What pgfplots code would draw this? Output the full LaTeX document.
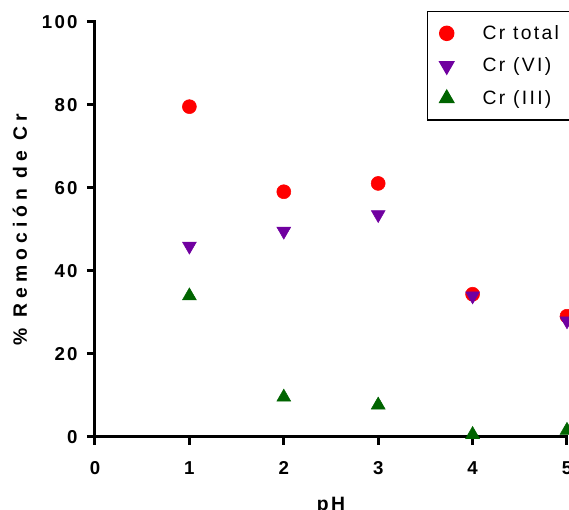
\documentclass[border=0pt]{standalone}
\usepackage{fontspec}
\setmainfont{Liberation Sans}[LetterSpace=12]
\newfontfamily\widefont{Liberation Sans}[LetterSpace=26]
\usepackage{pgfplots}
\pgfplotsset{compat=1.18}
\definecolor{crred}{RGB}{255,0,0}
\definecolor{crpurple}{RGB}{112,0,160}
\definecolor{crgreen}{RGB}{0,100,0}
\begin{document}
\begin{tikzpicture}
% visible window of the reference (1px = 0.75pt), right side is cut off
\path[use as bounding box, clip] (-71.25pt,-54.75pt) rectangle (355.5pt,327.75pt);
\begin{axis}[
    anchor=origin, at={(0pt,0pt)},
    x=70.8pt, y=3.1125pt,
    xmin=0, xmax=5, ymin=0, ymax=100,
    clip=false,
    axis lines=left,
    axis line style={-, line width=2.25pt, black, line cap=rect},
    xtick={0,1,2,3,4,5},
    ytick={0,20,40,60,80,100},
    tick align=outside,
    major tick length=6pt,
    tick style={line width=2.25pt, black},
    /pgf/number format/assume math mode=true,
    ticklabel style={font=\fontsize{14}{16}\selectfont\bfseries},
    xticklabel style={yshift=-9pt},
    yticklabel style={xshift=-3.5pt},
    xlabel={pH},
    ylabel={\widefont\% Remoción de Cr},
    label style={font=\fontsize{14.5}{16}\selectfont\bfseries},
    xlabel style={at={(axis description cs:0.5,-0.178)}, anchor=base},
    ylabel style={at={(axis description cs:-0.159,0.5)}, anchor=center},
    legend image code/.code={\path[draw=none, fill=none] (-14.25pt,-12.2pt) rectangle (27pt,12.2pt);
        \draw[#1] plot coordinates {(0pt,0pt)};},
    legend style={at={(axis description cs:0.7034,1.0265)}, anchor=north west,
        draw=black, line width=1.1pt, fill=white,
        inner xsep=0pt, inner ysep=4pt, row sep=0pt,
        nodes={inner sep=0pt},
        font=\fontsize{14.5}{16}\selectfont},
    legend cell align=left,
]
\addplot[only marks, mark=*, mark size=5.25pt, color=crred] coordinates {
    (1,79.6) (2,59.1) (3,61.1) (4,34.4) (5,29.1)
};
\addlegendentry{\makebox[80pt][l]{Cr total}}
\addplot[only marks, mark=triangle*, mark size=6pt, color=crpurple,
    every mark/.append style={rotate=180}] coordinates {
    (1,46.0) (2,49.6) (3,53.6) (4,34.0) (5,28.0)
};
\addlegendentry{\makebox[80pt][l]{Cr (VI)}}
\addplot[only marks, mark=triangle*, mark size=6pt, color=crgreen] coordinates {
    (1,34.0) (2,9.6) (3,7.7) (4,0.6) (5,1.6)
};
\addlegendentry{\makebox[80pt][l]{Cr (III)}}
\end{axis}
\end{tikzpicture}
\end{document}
